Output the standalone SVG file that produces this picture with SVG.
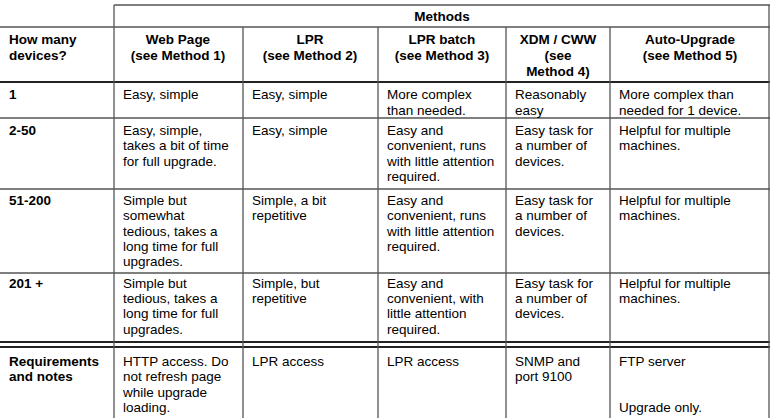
<svg xmlns="http://www.w3.org/2000/svg" width="770" height="418" viewBox="0 0 770 418">
<style>
text{font-family:"Liberation Sans",Arial,sans-serif;font-size:13.5px;fill:#000}
.b{font-weight:bold}
.c{text-anchor:middle}
line{stroke:#555;stroke-width:1.3}
.t{stroke:#222;stroke-width:2.2}
</style>
<rect width="770" height="418" fill="#fff"/>
<g id="grid">
<line x1="114" y1="5" x2="770" y2="5"/>
<line x1="0" y1="27" x2="770" y2="27"/>
<line class="t" x1="0" y1="82" x2="770" y2="82"/>
<line x1="0" y1="118" x2="770" y2="118"/>
<line x1="0" y1="189" x2="770" y2="189"/>
<line x1="0" y1="273" x2="770" y2="273"/>
<line class="t" x1="0" y1="342" x2="770" y2="342"/>
<line class="t" x1="0" y1="347" x2="770" y2="347"/>
<line x1="114" y1="5" x2="114" y2="418"/>
<line x1="769" y1="5" x2="769" y2="418"/>
<line x1="243" y1="27" x2="243" y2="418"/>
<line x1="378" y1="27" x2="378" y2="418"/>
<line x1="506" y1="27" x2="506" y2="418"/>
<line x1="610" y1="27" x2="610" y2="418"/>
</g>
<g id="header">
<text class="b c" x="442" y="21">Methods</text>
<text class="b" x="9" y="44">How many</text><text class="b" x="9" y="60">devices?</text>
<text class="b c" x="178" y="44">Web Page</text><text class="b c" x="178" y="60">(see Method 1)</text>
<text class="b c" x="310" y="44">LPR</text><text class="b c" x="310" y="60">(see Method 2)</text>
<text class="b c" x="442" y="44">LPR batch</text><text class="b c" x="442" y="60">(see Method 3)</text>
<text class="b c" x="558" y="44">XDM / CWW</text><text class="b c" x="558" y="60">(see</text><text class="b c" x="558" y="76">Method 4)</text>
<text class="b c" x="690" y="44">Auto-Upgrade</text><text class="b c" x="690" y="60">(see Method 5)</text>
</g>
<g id="row1">
<text class="b" x="9" y="99">1</text>
<text x="123" y="99">Easy, simple</text>
<text x="252" y="99">Easy, simple</text>
<text x="387" y="99">More complex</text><text x="387" y="115">than needed.</text>
<text x="515" y="99">Reasonably</text><text x="515" y="115">easy</text>
<text x="619" y="99">More complex than</text><text x="619" y="115">needed for 1 device.</text>
</g>
<g id="row2">
<text class="b" x="9" y="135">2-50</text>
<text x="123" y="135">Easy, simple,</text><text x="123" y="150">takes a bit of time</text><text x="123" y="166">for full upgrade.</text>
<text x="252" y="135">Easy, simple</text>
<text x="387" y="135">Easy and</text><text x="387" y="150">convenient, runs</text><text x="387" y="166">with little attention</text><text x="387" y="181">required.</text>
<text x="515" y="135">Easy task for</text><text x="515" y="150">a number of</text><text x="515" y="166">devices.</text>
<text x="619" y="135">Helpful for multiple</text><text x="619" y="150">machines.</text>
</g>
<g id="row3">
<text class="b" x="9" y="205">51-200</text>
<text x="123" y="205">Simple but</text><text x="123" y="220">somewhat</text><text x="123" y="236">tedious, takes a</text><text x="123" y="251">long time for full</text><text x="123" y="266">upgrades.</text>
<text x="252" y="205">Simple, a bit</text><text x="252" y="220">repetitive</text>
<text x="387" y="205">Easy and</text><text x="387" y="220">convenient, runs</text><text x="387" y="236">with little attention</text><text x="387" y="251">required.</text>
<text x="515" y="205">Easy task for</text><text x="515" y="220">a number of</text><text x="515" y="236">devices.</text>
<text x="619" y="205">Helpful for multiple</text><text x="619" y="220">machines.</text>
</g>
<g id="row4">
<text class="b" x="9" y="288">201 +</text>
<text x="123" y="288">Simple but</text><text x="123" y="303">tedious, takes a</text><text x="123" y="318">long time for full</text><text x="123" y="334">upgrades.</text>
<text x="252" y="288">Simple, but</text><text x="252" y="303">repetitive</text>
<text x="387" y="288">Easy and</text><text x="387" y="303">convenient, with</text><text x="387" y="318">little attention</text><text x="387" y="334">required.</text>
<text x="515" y="288">Easy task for</text><text x="515" y="303">a number of</text><text x="515" y="318">devices.</text>
<text x="619" y="288">Helpful for multiple</text><text x="619" y="303">machines.</text>
</g>
<g id="row5">
<text class="b" x="9" y="366">Requirements</text><text class="b" x="9" y="381">and notes</text>
<text x="123" y="366">HTTP access. Do</text><text x="123" y="381">not refresh page</text><text x="123" y="397">while upgrade</text><text x="123" y="412">loading.</text>
<text x="252" y="366">LPR access</text>
<text x="387" y="366">LPR access</text>
<text x="515" y="366">SNMP and</text><text x="515" y="381">port 9100</text>
<text x="619" y="366">FTP server</text>
<text x="619" y="412">Upgrade only.</text>
</g>
</svg>
